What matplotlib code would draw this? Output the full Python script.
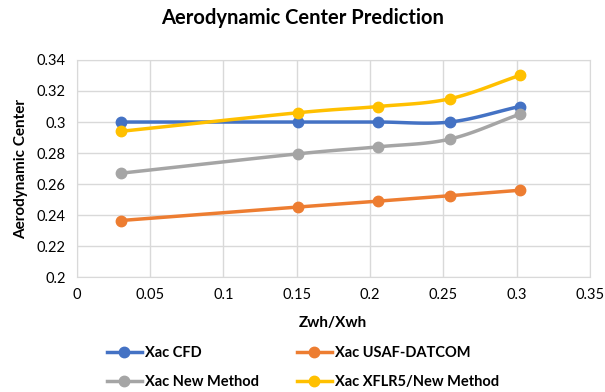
import numpy as np
import matplotlib
matplotlib.use("Agg")
import matplotlib.pyplot as plt
from matplotlib.lines import Line2D

plt.rcParams['font.family'] = ['Lato', 'DejaVu Sans']

x = [0.030, 0.151, 0.2055, 0.2545, 0.302]
cfd = [0.300, 0.300, 0.300, 0.300, 0.310]
datcom = [0.2365, 0.2452, 0.249, 0.2525, 0.256]
newm = [0.267, 0.2795, 0.284, 0.289, 0.305]
xflr = [0.294, 0.306, 0.310, 0.315, 0.330]
names = ["Xac CFD", "Xac USAF-DATCOM", "Xac New Method", "Xac XFLR5/New Method"]
colors = ["#4472C4", "#ED7D31", "#A5A5A5", "#FFC000"]
xticks = [0, 0.05, 0.1, 0.15, 0.2, 0.25, 0.3, 0.35]
xticklabels = ["0", "0.05", "0.1", "0.15", "0.2", "0.25", "0.3", "0.35"]
yticks = [0.2, 0.22, 0.24, 0.26, 0.28, 0.3, 0.32, 0.34]
yticklabels = ["0.2", "0.22", "0.24", "0.26", "0.28", "0.3", "0.32", "0.34"]


def smooth(xs, ys, n=30):
    xs = np.asarray(xs, float); ys = np.asarray(ys, float)
    px = np.concatenate([[2*xs[0]-xs[1]], xs, [2*xs[-1]-xs[-2]]])
    py = np.concatenate([[2*ys[0]-ys[1]], ys, [2*ys[-1]-ys[-2]]])
    ox, oy = [], []
    t = np.linspace(0, 1, n)
    for i in range(1, len(px)-2):
        p0, p1, p2, p3 = [np.array([px[j], py[j]]) for j in range(i-1, i+3)]
        b1 = p1 + (p2 - p0) / 6
        b2 = p2 - (p3 - p1) / 6
        pts = ((1-t)**3)[:, None]*p1 + (3*(1-t)**2*t)[:, None]*b1 + (3*(1-t)*t**2)[:, None]*b2 + (t**3)[:, None]*p2
        ox.extend(pts[:, 0]); oy.extend(pts[:, 1])
    return ox, oy


fig = plt.figure(figsize=(6.05, 3.92), dpi=100)
ax = fig.add_axes([0.127, 0.293, 0.848, 0.554])
series = [cfd, datcom, newm, xflr]
handles = []
for ys, c, nm in zip(series, colors, names):
    sx, sy = smooth(x, ys)
    ax.plot(sx, sy, color=c, lw=2.5, zorder=3, solid_capstyle='round')
    ax.plot(x, ys, 'o', color=c, ms=7.5, zorder=4)
    handles.append(Line2D([], [], color=c, lw=2.5, marker='o', ms=7.5, label=nm))

ax.set_xlim(0, 0.35)
ax.set_ylim(0.2, 0.34)
ax.set_xticks(xticks)
ax.set_xticklabels(xticklabels)
ax.set_yticks(yticks)
ax.set_yticklabels(yticklabels)
ax.grid(True, color='#D9D9D9', lw=1)
ax.set_axisbelow(True)
for s in ax.spines.values():
    s.set_color('#D9D9D9')
ax.tick_params(length=0, labelsize=10.5, colors='black', pad=8)
ax.set_xlabel("Zwh/Xwh", fontsize=11, fontweight='bold', labelpad=10)
ax.set_ylabel("Aerodynamic Center", fontsize=11, fontweight='bold', labelpad=6)
fig.text(0.5, 0.955, "Aerodynamic Center Prediction", ha='center', va='center',
         fontsize=14.5, fontweight='bold')
order = [0, 2, 1, 3]
fig.legend(handles=[handles[i] for i in order], loc='lower left', bbox_to_anchor=(0.155, -0.027), ncol=2,
           frameon=False, prop={'weight': 'bold', 'size': 10.5},
           columnspacing=2.6, handlelength=2.4, handletextpad=0.2, labelspacing=1.05)
fig.savefig("out.png", dpi=100)
